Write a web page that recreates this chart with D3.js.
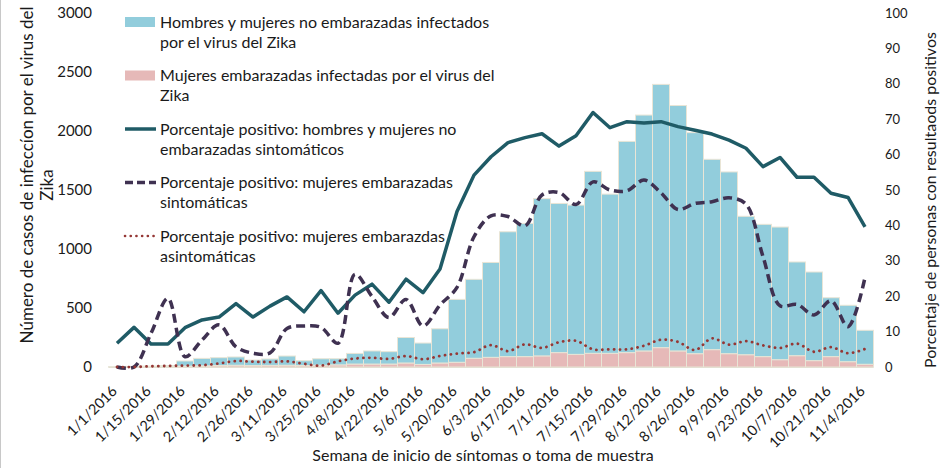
<!DOCTYPE html>
<html lang="es">
<head>
<meta charset="utf-8">
<title>Zika</title>
<script src="https://cdn.jsdelivr.net/npm/d3@7"></script>
<style>
  body { margin: 0; background: #fff; }
  text { font-family: Lato, "Open Sans", sans-serif; fill: #1a1a1a; }
</style>
</head>
<body>
<div id="chart"></div>
<script>
// week of symptom onset / sample collection
var weeks = ["1/1/2016","1/8/2016","1/15/2016","1/22/2016","1/29/2016","2/5/2016","2/12/2016","2/19/2016",
  "2/26/2016","3/4/2016","3/11/2016","3/18/2016","3/25/2016","4/1/2016","4/8/2016","4/15/2016","4/22/2016",
  "4/29/2016","5/6/2016","5/13/2016","5/20/2016","5/27/2016","6/3/2016","6/10/2016","6/17/2016","6/24/2016",
  "7/1/2016","7/8/2016","7/15/2016","7/22/2016","7/29/2016","8/5/2016","8/12/2016","8/19/2016","8/26/2016",
  "9/2/2016","9/9/2016","9/16/2016","9/23/2016","9/30/2016","10/7/2016","10/14/2016","10/21/2016","10/28/2016",
  "11/4/2016"];

// cases, non-pregnant men and women
var casesNoPreg = [3,5,6,9,43,63,67,70,47,54,78,41,55,52,90,111,105,216,181,290,533,669,804,1058,1129,1333,
  1264,1265,1542,1349,1790,1999,2231,2080,1873,1613,1540,1173,1121,1124,794,751,499,478,288];
// cases, pregnant women
var casesPreg = [0,0,2,3,8,10,12,15,12,14,15,12,15,18,25,25,25,34,22,34,40,74,82,88,88,94,122,107,116,116,
  122,136,164,136,113,147,113,104,88,62,96,54,88,45,23];

// percent positive
var pctNoPregSymp = [6.7,11.2,6.5,6.5,11.1,13.3,14.1,17.9,14.1,17.2,19.8,15.6,21.6,15.2,20.3,23.4,18.3,24.8,
  21.0,27.7,43.9,54.2,59.4,63.4,64.8,65.9,62.4,65.3,71.9,67.6,69.3,68.9,69.3,67.9,66.9,65.8,64.1,61.8,56.6,
  59.2,53.6,53.6,49.1,47.9,39.6];
var pctPregSymp = [0,0,9.5,19.4,2.9,7.6,11.9,5.7,3.9,4.0,10.9,11.6,11.2,6.7,26.2,19.9,14.0,19.1,11.6,17.5,
  22.5,36.8,42.7,42.5,39.9,48.6,49.3,45.9,52.3,50.0,49.8,52.8,49.2,44.5,46.2,46.7,47.8,46.0,31.2,17.3,17.7,
  14.7,18.7,11.4,25.3];
var pctPregAsymp = [0,0,0.2,0.3,0.4,0.5,1.0,1.7,1.5,1.4,1.6,0.9,0.4,1.6,2.4,2.6,2.3,3.1,2.2,3.1,3.8,4.2,6.2,
  4.5,6.4,5.4,7.0,7.4,5.0,5.0,5.0,6.0,7.7,7.1,4.8,8.1,6.3,7.3,6.1,5.4,6.6,4.3,5.6,3.9,5.1];

var leftTicks = [0,500,1000,1500,2000,2500,3000];
var rightTicks = [0,10,20,30,40,50,60,70,80,90,100];

var legendLabels = [
  ["Hombres y mujeres no embarazadas infectados", "por el virus del Zika"],
  ["Mujeres embarazadas infectadas por el virus del", "Zika"],
  ["Porcentaje positivo: hombres y mujeres no", "embarazadas sintomáticos"],
  ["Porcentaje positivo: mujeres embarazadas", "sintomáticas"],
  ["Porcentaje positivo: mujeres embarazdas", "asintomáticas"]
];

var w = 949, h = 468;
var blue = "#92cddc", pink = "#e6b9b8", teal = "#1f5b66", purple = "#3f3151", red = "#953735";

var svg = d3.select("#chart").append("svg")
  .attr("width", w)
  .attr("height", h);

// frame edge on the left
svg.append("line")
  .attr("x1", 0.5).attr("x2", 0.5)
  .attr("y1", 0).attr("y2", h)
  .attr("stroke", "#c8c8c8");

var x = d3.scaleBand()
  .domain(d3.range(weeks.length))
  .range([108.5, 873.5])
  .padding(0);

var yL = d3.scaleLinear().domain([0, 3000]).range([367, 13]);
var yR = d3.scaleLinear().domain([0, 100]).range([367, 13]);

var cx = function(i) { return x(i) + x.bandwidth() / 2; };

// stacked bars
var rows = weeks.map(function(d, i) {
  return { i: i, preg: casesPreg[i], noPreg: casesNoPreg[i] };
});
var stack = d3.stack().keys(["preg", "noPreg"])(rows);
var fills = [pink, blue];

stack.forEach(function(layer, k) {
  svg.append("g")
    .selectAll("rect")
    .data(layer)
    .enter()
    .append("rect")
    .attr("x", function(d) { return x(d.data.i); })
    .attr("y", function(d) { return yL(d[1]); })
    .attr("width", x.bandwidth())
    .attr("height", function(d) { return yL(d[0]) - yL(d[1]); })
    .attr("fill", fills[k])
    .attr("stroke", "#e9e5d6")
    .attr("stroke-width", 1);
});

// base line
svg.append("line")
  .attr("x1", x.range()[0]).attr("x2", x.range()[1])
  .attr("y1", yL(0) + 0.5).attr("y2", yL(0) + 0.5)
  .attr("stroke", "#e3e0d2");

// left axis labels
svg.append("g")
  .selectAll("text")
  .data(leftTicks)
  .enter()
  .append("text")
  .attr("x", 92)
  .attr("y", function(d) { return yL(d); })
  .attr("dy", "0.35em")
  .attr("text-anchor", "end")
  .attr("font-size", 15)
  .text(function(d) { return d; });

// right axis labels
svg.append("g")
  .selectAll("text")
  .data(rightTicks)
  .enter()
  .append("text")
  .attr("x", 885)
  .attr("y", function(d) { return yR(d); })
  .attr("dy", "0.35em")
  .attr("font-size", 13)
  .text(function(d) { return d; });

// x labels, every other week
svg.append("g")
  .selectAll("text")
  .data(weeks.filter(function(d, i) { return i % 2 == 0; }))
  .enter()
  .append("text")
  .attr("transform", function(d) {
    return "translate(" + (cx(weeks.indexOf(d)) + 1) + ",392) rotate(-45)";
  })
  .attr("text-anchor", "end")
  .attr("font-size", 14.5)
  .text(function(d) { return d; });

// axis titles
svg.append("text")
  .attr("x", 483)
  .attr("y", 461)
  .attr("text-anchor", "middle")
  .attr("font-size", 16)
  .text("Semana de inicio de síntomas o toma de muestra");

var lt = svg.append("text")
  .attr("transform", "translate(33,175) rotate(-90)")
  .attr("text-anchor", "middle")
  .attr("font-size", 17);
lt.append("tspan").attr("x", 0).attr("y", 0).text("Número de casos de infeccíon por el virus del");
lt.append("tspan").attr("x", -10).attr("y", 20).text("Zika");

svg.append("text")
  .attr("transform", "translate(936,200) rotate(-90)")
  .attr("text-anchor", "middle")
  .attr("font-size", 16)
  .text("Porcentaje de personas con resultaods positivos");

// legend
var legend = svg.append("g");
var legY = [22, 75.5, 129, 182.5, 236];
legendLabels.forEach(function(lines, k) {
  var yy = legY[k];
  if (k < 2) {
    legend.append("rect")
      .attr("x", 125).attr("y", yy - 5)
      .attr("width", 30).attr("height", 10)
      .attr("fill", fills[1 - k]);
  } else {
    var ln = legend.append("line")
      .attr("x1", 125).attr("x2", 156)
      .attr("y1", yy).attr("y2", yy)
      .attr("stroke-width", 3.5);
    if (k == 2) ln.attr("stroke", teal);
    if (k == 3) ln.attr("stroke", purple).attr("stroke-dasharray", "8,4");
    if (k == 4) ln.attr("stroke", red).attr("stroke-width", 2.6)
      .attr("stroke-linecap", "round").attr("stroke-dasharray", "0.1,5.6");
  }
  var t = legend.append("text")
    .attr("font-size", 16);
  t.append("tspan").attr("x", 160).attr("y", yy + 5.5).text(lines[0]);
  t.append("tspan").attr("x", 160).attr("y", yy + 25.5).text(lines[1]);
});

// percent lines
var lineSolid = d3.line()
  .x(function(d, i) { return cx(i); })
  .y(function(d) { return yR(d); });

var lineSmooth = d3.line()
  .x(function(d, i) { return cx(i); })
  .y(function(d) { return yR(d); })
  .curve(d3.curveCatmullRom.alpha(0.5));

svg.append("path")
  .attr("d", lineSolid(pctNoPregSymp))
  .attr("fill", "none")
  .attr("stroke", teal)
  .attr("stroke-width", 3.5)
  .attr("stroke-linejoin", "round");

svg.append("path")
  .attr("d", lineSmooth(pctPregSymp))
  .attr("fill", "none")
  .attr("stroke", purple)
  .attr("stroke-width", 3.5)
  .attr("stroke-dasharray", "9,5");

svg.append("path")
  .attr("d", lineSmooth(pctPregAsymp))
  .attr("fill", "none")
  .attr("stroke", red)
  .attr("stroke-width", 2.8)
  .attr("stroke-linecap", "round")
  .attr("stroke-dasharray", "0.1,5.8");
</script>
</body>
</html>
